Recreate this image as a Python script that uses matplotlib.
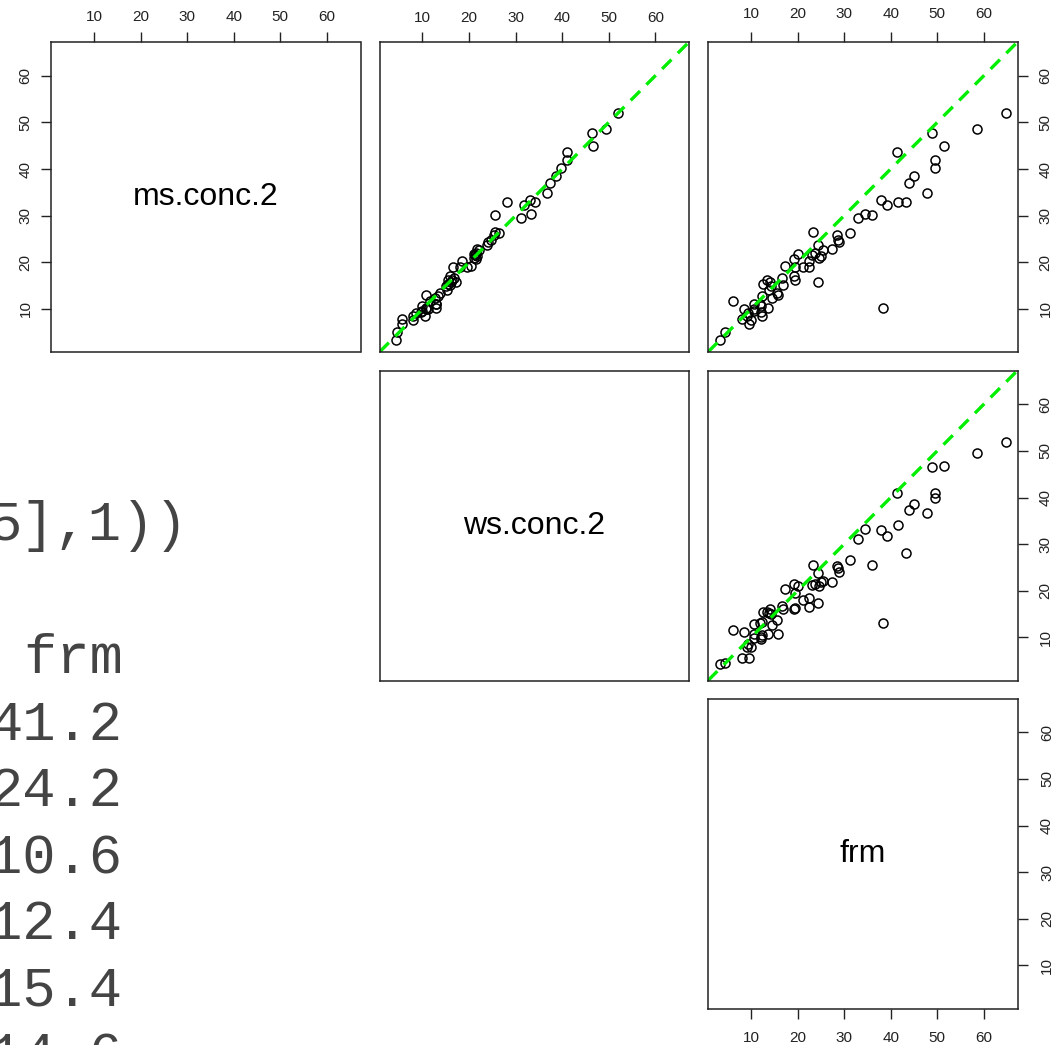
import matplotlib
matplotlib.use("Agg")
import matplotlib.pyplot as plt

frm = [64.7, 58.6, 48.8, 41.3, 51.4, 49.5, 49.5, 44.9, 44.0, 47.9,
       37.9, 39.1, 41.6, 43.3, 34.4, 35.9, 33.0, 31.2, 28.4, 28.6,
       28.8, 23.3, 27.5, 24.3, 25.4, 24.7, 25.0, 23.7, 23.1, 22.4,
       22.5, 21.1, 20.1, 19.3, 19.4, 19.3, 19.4, 17.4, 24.3, 16.7,
       16.9, 15.6, 15.7, 14.6, 14.1, 13.4, 12.6, 13.8, 14.3, 12.4,
       13.6, 11.9, 12.2, 12.3, 10.6, 10.7, 8.4, 9.4, 9.1, 8.1,
       9.5, 6.1, 4.4, 3.4, 38.3, 9.9, 10.6, 12.1]
ms_conc = [52.1, 48.6, 47.7, 43.7, 45.0, 42.0, 40.3, 38.6, 37.1, 34.9,
           33.4, 32.2, 33.0, 32.9, 30.3, 30.1, 29.4, 26.3, 25.8, 24.8,
           24.4, 26.5, 22.8, 23.8, 22.6, 20.9, 21.4, 22.0, 21.5, 20.2,
           19.1, 19.1, 21.7, 20.7, 19.0, 17.0, 16.2, 19.2, 15.8, 16.6,
           15.2, 13.4, 12.9, 12.3, 15.8, 16.2, 15.4, 14.1, 14.9, 12.7,
           10.2, 11.1, 9.3, 8.4, 11.1, 10.0, 10.0, 9.1, 8.4, 7.8,
           6.8, 11.8, 5.0, 3.4, 10.1, 7.6, 9.5, 10.6]
ws_conc = [52.0, 49.5, 46.5, 41.0, 46.7, 41.0, 39.8, 38.6, 37.3, 36.7,
           33.0, 31.8, 34.2, 28.1, 33.2, 25.6, 31.1, 26.5, 25.4, 24.8,
           24.1, 25.5, 21.8, 23.9, 22.1, 21.0, 21.8, 21.5, 21.2, 18.5,
           16.6, 18.1, 21.1, 21.5, 19.6, 16.0, 16.4, 20.4, 17.3, 16.7,
           16.0, 13.7, 10.7, 12.6, 16.2, 15.5, 15.5, 15.3, 15.0, 13.3,
           10.7, 13.0, 9.6, 10.5, 12.8, 10.7, 11.1, 8.7, 7.9, 5.5,
           5.6, 11.6, 4.5, 4.4, 13.0, 8.0, 9.8, 10.0]

names = ["ms.conc.2", "ws.conc.2", "frm"]
ticks = [10, 20, 30, 40, 50, 60]
lims = (0.77, 67.23)

# console text sitting over the empty lower-left corner (partly off the edge)
console_lines = [("5],1))", 188, 540), ("frm", 123, 673), ("41.2", 122, 740),
                 ("24.2", 122, 806), ("10.6", 122, 873), ("12.4", 122, 939),
                 ("15.4", 122, 1006), ("14.6", 122, 1072)]

plt.rcParams["font.family"] = ["Liberation Sans", "DejaVu Sans"]
plt.rcParams["lines.scale_dashes"] = False

W, H = 1060, 1045
fig = plt.figure(figsize=(W / 100, H / 100), dpi=100)

col_left = [51, 379.5, 708]
row_top = [42, 370.5, 698.5]
size_w, size_h = 309.5, 310

data = [ms_conc, ws_conc, frm]


def make_ax(r, c):
    ax = fig.add_axes([col_left[c] / W, 1 - (row_top[r] + size_h) / H,
                       size_w / W, size_h / H])
    ax.set_xlim(lims)
    ax.set_ylim(lims)
    for s in ax.spines.values():
        s.set_linewidth(1.1)
        s.set_color("#222222")
    ax.tick_params(which="both", direction="out", length=7.2, width=1.0,
                   color="#222222", labelsize=11, labelcolor="#222222",
                   top=False, bottom=False, left=False, right=False,
                   labeltop=False, labelbottom=False, labelleft=False,
                   labelright=False)
    ax.set_xticks(ticks)
    ax.set_yticks(ticks)
    return ax


axes = {}
for r in range(3):
    for c in range(r, 3):
        ax = make_ax(r, c)
        axes[(r, c)] = ax
        if r == c:
            ax.text(0.5, 0.5, names[r], transform=ax.transAxes,
                    ha="center", va="center", fontsize=23, color="black")
        else:
            ax.plot(data[c], data[r], "o", ms=6.5, mfc="none", mec="black",
                    mew=1.1, clip_on=True)
            ax.axline((0, 0), slope=1, color="#00ee00", lw=2.4,
                      dashes=(9.5, 6.5))

# axis labels as R pairs() draws them here
for c in range(3):
    axes[(0, c)].tick_params(top=True, labeltop=True, pad=5)
axes[(0, 0)].tick_params(left=True, labelleft=True, pad=6)
for tl in axes[(0, 0)].get_yticklabels():
    tl.set_rotation(90)
    tl.set_va("center")
for r in range(3):
    ax = axes[(r, 2)]
    ax.tick_params(right=True, labelright=True, pad=8)
    for tl in ax.get_yticklabels():
        tl.set_rotation(90)
        tl.set_va("center")
axes[(2, 2)].tick_params(bottom=True, labelbottom=True, pad=9)

for txt, xr, yb in console_lines:
    fig.text(xr / W, 1 - yb / H, txt, ha="right", va="baseline",
             family="Liberation Mono", fontsize=40, color="#444444")

fig.savefig("out.png", dpi=100)
